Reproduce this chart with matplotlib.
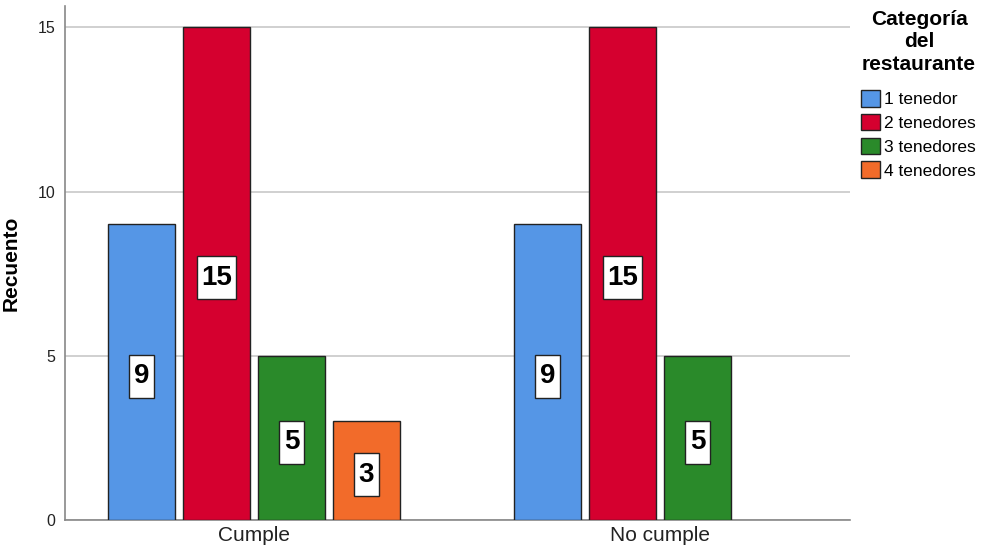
import numpy as np
import matplotlib.pyplot as plt
from matplotlib.path import Path

plt.rcParams['font.family'] = ['Liberation Sans', 'DejaVu Sans']

# counts per compliance group and restaurant category
groups = ["Cumple", "No cumple"]
categories = ["1 tenedor", "2 tenedores", "3 tenedores", "4 tenedores"]
counts = {
    "1 tenedor":   [9, 9],
    "2 tenedores": [15, 15],
    "3 tenedores": [5, 5],
    "4 tenedores": [3, 0],
}
colors = ["#5596e6", "#d5002f", "#2a8a2a", "#f26b2a"]
legend_title = "Categoría\ndel\nrestaurante"


def label_box(x0, y0, width, height, mutation_size):
    """tall white box around the count labels (narrow sides, deep top/bottom)"""
    cx, cy = x0 + width / 2, y0 + height / 2
    hw = width / 2 + 0.16 * mutation_size
    hh = 0.775 * mutation_size
    verts = [(cx - hw, cy - hh), (cx + hw, cy - hh), (cx + hw, cy + hh),
             (cx - hw, cy + hh), (cx - hw, cy - hh)]
    return Path(verts, closed=True)


fig = plt.figure(figsize=(9.88, 5.58), dpi=100)
ax = fig.add_axes([65/988, 38/558, 785/988, 514/558])

x = np.arange(len(groups))
slot = 0.1847
width = 0.165
for i, (cat, col) in enumerate(zip(categories, colors)):
    vals = np.array(counts[cat])
    pos = x + (i - 1.5) * slot
    keep = vals > 0
    ax.bar(pos[keep], vals[keep], width=width, color=col, edgecolor="#222222",
           linewidth=1, label=cat, zorder=3)
    for p, v in zip(pos[keep], vals[keep]):
        ax.annotate(str(v), (p, v / 2), xytext=(0, -3), textcoords="offset points",
                    ha="center", va="center", fontsize=20, fontweight="bold", zorder=4,
                    bbox=dict(boxstyle=label_box, fc="white", ec="#222222", lw=1))

ax.set_xlim(-0.4655, 1.468)
ax.set_ylim(0, 15.65)
ax.set_yticks([0, 5, 10, 15])
ax.set_xticks(x)
ax.set_xticklabels(groups, fontsize=15, color="#222222")
ax.tick_params(axis="y", labelsize=11.5, length=0, pad=7, colors="#222222")
ax.tick_params(axis="x", length=0, pad=4)
ax.grid(axis="y", color="#c8c8c8", lw=1.2, zorder=0)
for s in ["top", "right"]:
    ax.spines[s].set_visible(False)
for s in ["left", "bottom"]:
    ax.spines[s].set_color("#888888")
    ax.spines[s].set_linewidth(1.2)

ax.set_ylabel("Recuento", fontsize=15, fontweight="bold", labelpad=12)

# legend title drawn separately so it can sit higher above the entries
fig.text(919/988, 1 - 10/558, legend_title, ha="center", va="top",
         fontsize=15, fontweight="bold", linespacing=1.22, multialignment="center")
leg = fig.legend(loc="upper left", bbox_to_anchor=(861/988, 1 - 90/558),
                 frameon=False, fontsize=12.5, handlelength=1.1, handleheight=1.1,
                 handletextpad=0.25, labelspacing=0.38, borderaxespad=0, borderpad=0)

fig.savefig("out.png", dpi=100)
